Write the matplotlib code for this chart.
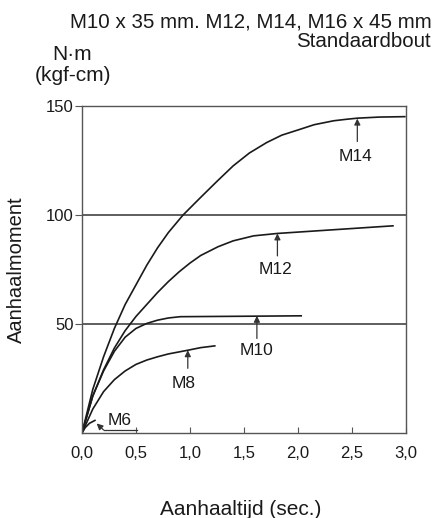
import matplotlib
matplotlib.use("Agg")
from matplotlib import pyplot as plt

plt.rcParams['font.family'] = ['Liberation Sans', 'DejaVu Sans']

# curves (time in sec, moment in N·m)
m14_x = [0, 0.1, 0.2, 0.3, 0.4, 0.5, 0.6, 0.7, 0.8, 0.935, 1.09, 1.25, 1.40, 1.55, 1.71, 1.85, 2.02, 2.15, 2.33, 2.45, 2.55, 2.75, 2.99]
m14_y = [0, 20, 35, 48, 59, 68, 77, 85, 92, 100, 107.7, 115.5, 122.6, 128.5, 133.3, 136.7, 139.4, 141.5, 143.3, 144, 144.5, 145, 145.2]
m12_x = [0, 0.1, 0.2, 0.3, 0.4, 0.5, 0.6, 0.7, 0.8, 0.9, 1.0, 1.1, 1.26, 1.40, 1.59, 1.81, 2.33, 2.88]
m12_y = [0, 17, 29, 39, 47, 53.5, 59, 64.5, 69.5, 74, 78, 81.5, 85.5, 88.2, 90.5, 91.6, 93.3, 95.1]
m10_x = [0, 0.1, 0.2, 0.3, 0.4, 0.5, 0.6, 0.7, 0.8, 0.91, 1.5, 2.03]
m10_y = [0, 17, 28.5, 37.5, 44, 48, 50.3, 51.8, 52.8, 53.4, 53.6, 53.8]
m8_x = [0, 0.1, 0.2, 0.3, 0.4, 0.5, 0.6, 0.7, 0.8, 0.98, 1.1, 1.23]
m8_y = [0, 11, 19, 24.5, 28.5, 31.5, 33.5, 35, 36.3, 38, 39.2, 40]
m6_x = [0, 0.03, 0.07, 0.12]
m6_y = [0, 2.5, 4.5, 5.8]

# label, arrow tip, arrow tail, text position
labels = [
    ("M14", (2.55, 144.3), (2.55, 133.8), (2.53, 127)),
    ("M12", (1.81, 91.6), (1.81, 81.3), (1.79, 75.2)),
    ("M10", (1.62, 53.8), (1.62, 43.4), (1.62, 38)),
    ("M8", (0.98, 38), (0.98, 29.7), (0.94, 22.8)),
]

x_ticks = [0, 0.5, 1.0, 1.5, 2.0, 2.5, 3.0]
x_tick_labels = ["0,0", "0,5", "1,0", "1,5", "2,0", "2,5", "3,0"]
y_ticks = [50, 100, 150]

ink = "#1a1a1a"

fig = plt.figure(figsize=(4.36, 5.18), dpi=100)
ax = fig.add_axes([0.188, 0.164, 0.743, 0.631])

ax.axhline(50, color="#333333", lw=1.1)
ax.axhline(100, color="#333333", lw=1.1)

for xs, ys in [(m14_x, m14_y), (m12_x, m12_y), (m10_x, m10_y), (m8_x, m8_y), (m6_x, m6_y)]:
    ax.plot(xs, ys, color=ink, lw=1.2, solid_joinstyle="round")

arrow = dict(arrowstyle="-|>", color="#333333", lw=0.9, mutation_scale=9, shrinkA=0, shrinkB=0)
for name, tip, tail, pos in labels:
    ax.annotate("", xy=tip, xytext=tail, arrowprops=arrow)
    ax.text(pos[0], pos[1], name, ha="center", va="center", fontsize=12.5, color=ink)

# M6 label with underline and leader
ax.plot([0.2, 0.51], [1.4, 1.4], color="#333333", lw=0.9)
ax.annotate("", xy=(0.136, 4.4), xytext=(0.2, 1.4), arrowprops=arrow)
ax.text(0.35, 5.6, "M6", ha="center", va="center", fontsize=12.5, color=ink)

ax.set_xlim(0, 3.0)
ax.set_ylim(0, 150)
ax.set_xticks(x_ticks)
ax.set_xticklabels(x_tick_labels)
ax.set_yticks(y_ticks)
ax.tick_params(axis="x", direction="in", length=4, pad=9, labelsize=12, colors="#555555", labelcolor=ink)
ax.tick_params(axis="y", direction="out", length=5, pad=1, labelsize=12, colors="#555555", labelcolor=ink)
for s in ax.spines.values():
    s.set_color("#555555")
    s.set_linewidth(1.0)

ax.set_xlabel("Aanhaaltijd (sec.)", fontsize=15, color=ink)
ax.xaxis.set_label_coords(0.49, -0.205)
ax.set_ylabel("Aanhaalmoment", fontsize=14.5, color=ink)
ax.yaxis.set_label_coords(-0.172, 0.5)

fig.text(0.99, 0.958, "M10 x 35 mm. M12, M14, M16 x 45 mm", ha="right", va="center", fontsize=14.8, color=ink)
fig.text(0.987, 0.919, "Standaardbout", ha="right", va="center", fontsize=14.8, color=ink)
fig.text(0.165, 0.894, "N·m", ha="center", va="center", fontsize=15, color=ink)
fig.text(0.167, 0.855, "(kgf-cm)", ha="center", va="center", fontsize=15, color=ink)

fig.savefig("out.png", dpi=100)
